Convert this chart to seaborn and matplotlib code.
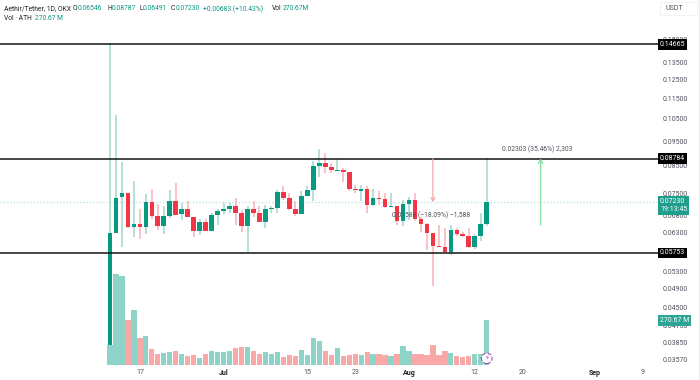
import numpy as np
import pandas as pd
import matplotlib
matplotlib.use("Agg")
import matplotlib.pyplot as plt
from matplotlib.patches import Rectangle
from matplotlib.lines import Line2D
import seaborn as sns

opens = [.03807,.06301,.07384,.07538,.06456,.06543,.06456,.0723,.06782,.06493,.06791,.07262,.06843,.07016,.0677,.0634,
         .06611,.06357,.0683,.06953,.07016,.0711,.06892,.06502,.06997,.06882,.06611,.07016,.07038,.07572,.0735,.06997,
         .06852,.07427,.0763,.08485,.08612,.08459,.0832,.08346,.08272,.07665,.07596,.07665,.07133,.0737,.07318,.07079,
         .07101,.06649,.07165,.07295,.06691,.0656,.06292,.05928,.05918,.05778,.06377,.06256,.06216,.05901,.06208,.06546]
closes = [.06292,.0737,.07538,.06473,.06543,.06456,.0723,.06791,.06502,.06791,.07252,.0683,.07016,.0677,.0634,.0662,
          .06349,.0683,.06944,.07006,.07101,.06892,.06493,.06997,.06892,.06602,.07016,.07047,.07572,.0737,.07006,.06852,
          .07427,.0763,.08497,.08612,.08459,.08335,.08357,.08272,.07654,.0762,.07654,.07133,.0737,.07318,.07069,.07101,
          .06649,.07165,.07295,.06691,.0656,.06292,.05928,.05909,.05778,.06377,.06256,.06216,.05901,.06208,.06552,.0723]
highs = [.14665,.1068,.0865,.07538,.07954,.07016,.07484,.07654,.07165,.07092,.0763,.07863,.07188,.07262,.0677,.06691,
         .06691,.06892,.06997,.07188,.07188,.0735,.06975,.07101,.07262,.07092,.07133,.07101,.0763,.07768,.07538,.07262,
         .07596,.07768,.08701,.09158,.08994,.08601,.08779,.0841,.08283,.07803,.07803,.07768,.07654,.07596,.07538,.07518,
         .07101,.07295,.07404,.07518,.0677,.06572,.06292,.06522,.06426,.06522,.06426,.06318,.06443,.06264,.06873,.08787]
lows = [.03807,.06301,.05901,.06426,.06189,.06133,.06273,.067,.06377,.06256,.06721,.0683,.0667,.0677,.06189,.06228,
        .06349,.06349,.06522,.06843,.06873,.06522,.06318,.0577,.0677,.06602,.06426,.06873,.06873,.07295,.06975,.06791,
        .06852,.07427,.07262,.08098,.08245,.0823,.08309,.07919,.07596,.07518,.07272,.06892,.07101,.07133,.07047,.07069,
        .06522,.06493,.0667,.06649,.06318,.0583,.0496,.05909,.05778,.057,.06208,.06189,.05875,.05849,.06078,.06491]
volumes = [121,551,538,272,333,162,175,97,65,71,77,83,65,56,60,44,67,85,77,77,85,105,109,111,83,67,77,65,79,47,60,54,
           91,62,165,145,83,59,103,54,60,67,62,79,67,65,60,56,67,117,87,67,67,60,119,60,85,71,54,48,54,65,67,270.67]
price_ticks = [0.15, 0.135, 0.125, 0.115, 0.105, 0.095, 0.085, 0.075, 0.068, 0.063, 0.053, 0.049, 0.045, 0.0415, 0.0385, 0.0357]
price_labels = ["0.15000","0.13500","0.12500","0.11500","0.10500","0.09500","0.08500","0.07500","0.06800",
                "0.06300","0.05300","0.04900","0.04500","0.04150","0.03850","0.03570"]
day_ticks = [5, 19, 33, 41, 50, 61, 69, 81, 89]
day_labels = ["17", "Jul", "15", "23", "Aug", "12", "20", "Sep", "9"]
levels = [0.14665, 0.08784, 0.05753]
level_labels = ["0.14665", "0.08784", "0.05753"]
last_price = 0.0723
last_volume = 270.67
measure_down = [0.08784, 0.0723]
measure_up = [0.06522, 0.08787]
measure_down_day = 54
measure_up_day = 72

UP, DOWN = "#089981", "#F23645"
UP_W, DOWN_W = "#9fd8ce", "#f7b3b8"
UP_V, DOWN_V = "#8dd3c7", "#f9a8a8"
GREY = "#50535e"

sns.set_theme(style="white")
plt.rcParams["font.family"] = ["Roboto", "DejaVu Sans"]
W, H = 700, 380
fig = plt.figure(figsize=(W / 100, H / 100), dpi=100, facecolor="white")
ax = fig.add_axes([0, 1 - 366 / H, 660 / W, 366 / H])
ax2 = ax.twinx()

o, c, hi, lo = map(np.array, (opens, closes, highs, lows))
x = np.arange(len(o))
up = c >= o
ax.vlines(x, lo, hi, colors=[UP_W if u else DOWN_W for u in up], lw=1.1, zorder=2)
ax.bar(x, np.abs(c - o), bottom=np.minimum(o, c), width=0.78,
       color=[UP if u else DOWN for u in up], linewidth=0, zorder=3)
ax.set_yscale("log")

df = pd.DataFrame({"day": x, "vol": volumes, "dir": np.where(up, "up", "down")})
sns.barplot(data=df, x="day", y="vol", hue="dir", palette={"up": UP_V, "down": DOWN_V}, saturation=1,
            native_scale=True, dodge=False, width=0.88, legend=False, ax=ax2, linewidth=0)

for lv, lb in zip(levels, level_labels):
    ax.axhline(lv, color="#131313", lw=1.1, zorder=4)
    ax.text(1.0, lv, lb, transform=ax.get_yaxis_transform(), color="white", fontsize=5, va="center", ha="left",
            clip_on=False, zorder=20, bbox=dict(boxstyle="square,pad=0.25", fc="black", ec="none"))
ax.axhline(last_price, color=UP, lw=0.9, ls=":", alpha=0.3, zorder=1)

ax.annotate("", xy=(measure_down_day, measure_down[1]), xytext=(measure_down_day, measure_down[0]),
            arrowprops=dict(arrowstyle="->,head_width=0.12,head_length=0.2", color="#f2a0a5", lw=0.8,
                            shrinkA=0, shrinkB=0), zorder=5)
ax.annotate("", xy=(measure_up_day, measure_up[1]), xytext=(measure_up_day, measure_up[0]),
            arrowprops=dict(arrowstyle="->,head_width=0.12,head_length=0.2", color="#8fe3a8", lw=1.1,
                            shrinkA=0, shrinkB=0), zorder=5)
ax.text(60.2, 0.0682, "0.01588 (\u221218.09%) \u22121,588", fontsize=4.9, color=GREY, ha="right", va="center", zorder=6)
ax.text(71.5, 0.0915, "0.02303 (35.46%) 2,303", fontsize=4.9, color=GREY, ha="center", va="center", zorder=6)

ax.set_xlim(-18.39, 91.97)
ax.set_ylim(0.03465, 0.17886)
ax2.set_xlim(-18.39, 91.97)
ax2.set_ylim(-6, 2208)
ax2.axis("off")

ax.yaxis.tick_right()
ax.set_yticks(price_ticks)
ax.set_yticklabels(price_labels)
ax.minorticks_off()
ax.set_xticks(day_ticks)
ax.set_xticklabels(day_labels)
ax.tick_params(axis="y", length=0, pad=2, labelsize=5, labelcolor=GREY)
ax.tick_params(axis="x", length=0, pad=2, labelsize=5, labelcolor=GREY)
for t in ax.get_xticklabels():
    if t.get_text() in ("Jul", "Aug", "Sep"):
        t.set_fontweight("bold")
        t.set_color("#222222")
for s in ax.spines.values():
    s.set_visible(False)
ax.set_xlabel("")
ax.set_ylabel("")

ax.annotate("0.07230\n19:13:45", xy=(1.0, last_price), xycoords=ax.get_yaxis_transform(), xytext=(0, -2.6),
            textcoords="offset points", color="white", fontsize=5, va="center", ha="left", linespacing=1.25,
            annotation_clip=False, zorder=20, bbox=dict(boxstyle="square,pad=0.3", fc="#1f9f8b", ec="none"))
ax2.text(1.0, last_volume, "270.67 M", transform=ax2.get_yaxis_transform(), color="white",
         fontsize=5, va="center", ha="left", clip_on=False, zorder=20,
         bbox=dict(boxstyle="square,pad=0.3", fc="#2ba596", ec="none"))
ax2.scatter([x[-1]], [40], s=58, facecolor="white", edgecolor="#9c4fb5", linewidth=0.8, linestyle="--", zorder=8, clip_on=False)
ax2.text(x[-1], 40, "\u26a1", fontsize=5, color="#9c4fb5", ha="center", va="center", family="DejaVu Sans", zorder=9)

def px(xp, yp):
    return xp / W, 1 - yp / H

for xp, txt, col in [(4, "Aethir/Tether, 1D, OKX", "#222222"), (73, "O", "#222222"), (78, "0.06546", UP),
                     (107, "H", "#222222"), (112, "0.08787", UP), (139, "L", "#222222"), (143, "0.06491", UP),
                     (171, "C", "#222222"), (176, "0.07230", UP), (203, "+0.00683 (+10.43%)", UP),
                     (272, "Vol", "#222222"), (283, "270.67M", UP)]:
    fig.text(*px(xp, 9), txt, fontsize=4.85, color=col, ha="left", va="center")
fig.text(*px(4, 18), "Vol \u00b7 ATH", fontsize=4.85, color="#222222", ha="left", va="center")
fig.text(*px(35, 18), "270.67 M", fontsize=4.85, color=UP, ha="left", va="center")

fig.add_artist(Rectangle(px(660, 15), 37 / W, 13 / H, transform=fig.transFigure, fc="white", ec="#eef0f5", lw=0.6))
fig.text(*px(665, 8.5), "USDT", fontsize=5, color=GREY, ha="left", va="center")
fig.add_artist(Line2D([699 / W, 699 / W], [0, 1], transform=fig.transFigure, color="#eceef3", lw=0.8))

fig.savefig("out.png", dpi=100, facecolor="white")
